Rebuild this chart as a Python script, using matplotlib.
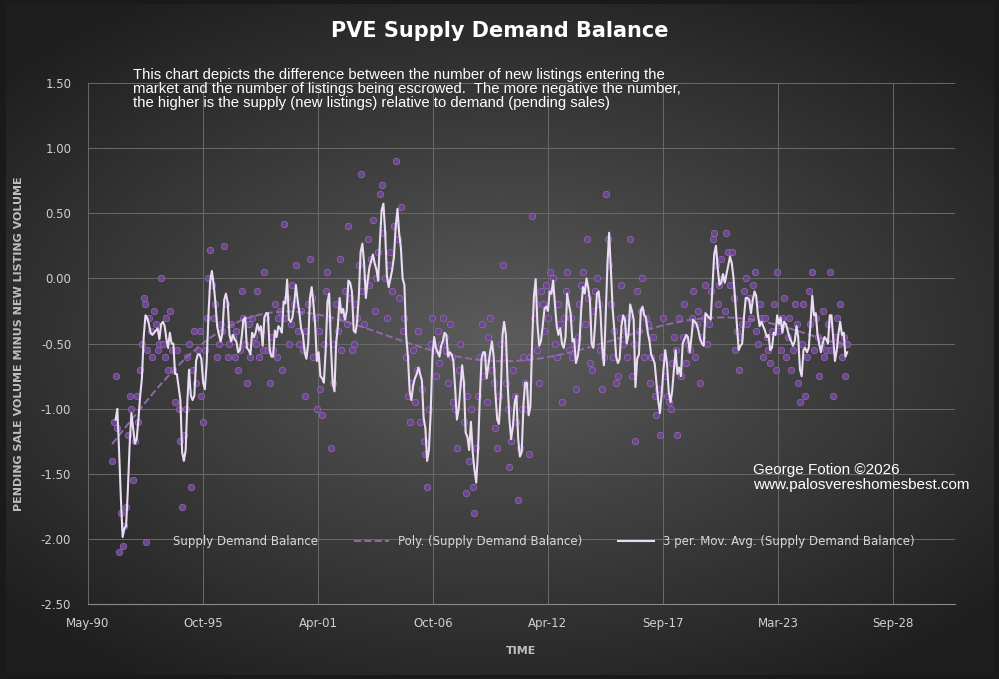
import numpy as np, pandas as pd, matplotlib
matplotlib.use("Agg")
import matplotlib.pyplot as plt

start = "1991-07-01"
values = [
-1.4,-1.1,-0.75,-1.15,-2.1,-1.8,
-2.05,-1.9,-1.75,-1.2,-0.9,-1.0,-1.55,-1.25,-0.9,-1.1,-0.7,-0.5,
-0.15,-0.2,-0.55,-0.3,-0.4,-0.6,-0.25,-0.35,-0.55,-0.5,0.0,-0.5,
-0.6,-0.3,-0.7,-0.25,-0.55,-0.7,-0.95,-0.55,-1.0,-1.25,-1.75,-1.2,
-1.0,-0.6,-0.5,-1.6,-0.7,-0.4,-0.8,-0.55,-0.4,-0.9,-1.1,-0.55,
-0.3,0.0,0.22,-0.05,-0.3,-0.2,-0.6,-0.5,-0.35,-0.4,0.25,-0.2,
-0.6,-0.5,-0.35,-0.45,-0.6,-0.4,-0.7,-0.55,-0.1,-0.3,-0.5,-0.8,
-0.35,-0.6,-0.3,-0.45,-0.5,-0.1,-0.6,-0.4,-0.55,0.05,-0.3,-0.55,
-0.8,-0.45,-0.55,-0.2,-0.6,-0.3,-0.25,-0.7,0.42,-0.3,-0.15,-0.5,
-0.35,-0.05,-0.2,0.1,-0.4,-0.5,-0.25,-0.55,-0.9,-0.4,-0.2,0.15,
-0.15,-0.6,-0.3,-1.0,-0.4,-0.85,-1.05,-0.5,-0.1,0.05,-0.3,-1.3,
-0.8,-0.5,-0.2,-0.4,0.15,-0.55,-0.3,-0.1,-0.35,0.4,-0.15,-0.55,
-0.5,-0.2,-0.3,0.1,0.8,-0.1,-0.35,0.0,0.3,-0.05,0.15,0.45,
-0.25,0.0,0.2,0.65,0.72,0.35,0.0,-0.3,0.1,0.2,-0.1,0.4,
0.9,0.3,-0.15,0.55,-0.4,-0.3,-0.6,-0.9,-1.1,-0.8,-0.55,-0.95,
-0.7,-0.4,-1.1,-0.85,-1.25,-1.35,-1.6,-1.0,-0.5,-0.3,-0.55,-0.75,
-0.4,-0.65,-0.5,-0.3,-0.45,-0.55,-0.8,-0.35,-0.6,-0.95,-1.0,-1.3,
-0.7,-0.5,-0.8,-1.1,-1.65,-0.9,-1.4,-1.0,-1.6,-1.8,-1.3,-0.9,
-0.6,-0.35,-0.75,-0.6,-0.95,-0.45,-0.3,-0.7,-0.8,-1.15,-1.3,-0.9,
-0.5,0.1,-0.6,-0.8,-1.0,-1.45,-1.25,-0.7,-0.9,-1.1,-1.7,-1.3,
-1.0,-0.6,-0.8,-1.0,-1.35,-0.6,0.48,-0.3,-0.2,-0.55,-0.8,-0.1,
-0.2,-0.4,-0.05,-0.3,0.05,-0.1,0.0,-0.5,-0.6,-0.2,-0.35,-0.95,
-0.3,-0.1,0.05,-0.55,-0.3,-0.6,-0.5,-0.85,-0.45,-0.2,-0.05,0.05,
-0.35,0.3,-0.15,-0.65,-0.7,-0.25,-0.1,0.0,-0.2,-0.55,-0.85,-0.6,
0.65,0.3,0.1,-0.2,-0.6,-0.4,-0.8,-0.75,-0.3,-0.05,-0.5,-0.4,
-0.6,-0.3,0.3,-0.75,-0.5,-1.25,-0.1,-0.4,-0.25,0.0,-0.6,-0.3,
-0.35,-0.8,-0.6,-0.45,-0.9,-1.05,-0.85,-1.2,-0.6,-0.3,-0.75,-0.9,
-0.95,-1.0,-0.65,-0.45,-0.55,-1.2,-0.3,-0.75,-0.45,-0.2,-0.65,-0.5,
-0.55,-0.3,-0.1,-0.6,-0.35,-0.25,-0.8,-0.45,-0.3,-0.05,-0.5,-0.35,
-0.1,0.3,0.35,0.1,-0.2,-0.05,0.15,0.0,-0.25,0.35,0.2,-0.05,
0.2,-0.15,-0.55,-0.4,-0.7,-0.45,-0.35,-0.1,0.0,-0.35,-0.15,-0.3,
-0.05,0.05,-0.4,-0.5,-0.2,-0.3,-0.6,-0.3,-0.45,-0.55,-0.65,-0.4,
-0.2,-0.7,0.05,-0.4,-0.55,-0.3,-0.15,-0.6,-0.45,-0.3,-0.7,-0.55,
-0.2,-0.35,-0.8,-0.95,-0.5,-0.2,-0.9,-0.6,-0.1,-0.35,0.05,-0.55,
-0.3,-0.45,-0.75,-0.5,-0.25,-0.6,-0.55,-0.35,0.05,-0.55,-0.9,-0.45,
-0.3,-0.5,-0.2,-0.6,-0.45,-0.75,-0.5]
tick_labels = ["May-90","Oct-95","Apr-01","Oct-06","Apr-12","Sep-17","Mar-23","Sep-28"]
y_ticks = [1.5,1.0,0.5,0.0,-0.5,-1.0,-1.5,-2.0,-2.5]

dates = pd.date_range(start, periods=len(values), freq="MS")
x = np.array((dates - pd.Timestamp("1899-12-30")).days, dtype=float)
y = np.array(values)
ma = pd.Series(y).rolling(3).mean().values
xs = (x - x.mean()) / x.std()
coef = np.polyfit(xs, y, 6)
poly = np.polyval(coef, xs)

fig = plt.figure(figsize=(9.99, 6.79), dpi=100)
fig.patch.set_facecolor("#1a1a1a")
bg = fig.add_axes([0.006, 0.006, 0.988, 0.988]); bg.axis("off")
gy, gx = np.mgrid[-1:1:300j, -1:1:400j]
r = np.sqrt(gx**2 * 0.8 + gy**2)
g = np.clip(0.36 - 0.2 * r, 0.12, 0.4)
bg.imshow(np.dstack([g, g, g]), aspect="auto", extent=[0, 1, 0, 1])
bg.set_xlim(0, 1); bg.set_ylim(0, 1)

ax = fig.add_axes([0.088, 0.11, 0.868, 0.768])
ax.patch.set_alpha(0)
ax.set_xlim(33000, 48080); ax.set_ylim(-2.5, 1.5)
ax.set_xticks([33000 + 2000 * i for i in range(8)], tick_labels)
ax.set_yticks(y_ticks, [f"{v:.2f}" for v in y_ticks])
ax.grid(True, color="#6a6a6a", lw=0.7)
for s in ax.spines.values(): s.set_visible(False)
ax.spines["bottom"].set_visible(True); ax.spines["bottom"].set_color("#8a8a8a")
ax.tick_params(colors="#d0d0d0", labelsize=8.5, length=0)
ax.tick_params(axis="x", pad=9)
ax.tick_params(axis="y", pad=12)
ax.scatter(x, y, s=22, color="#6e4590", edgecolors="#9a7cb8", linewidths=0.4, zorder=3, label="Supply Demand Balance")
ax.plot(x, poly, ls="--", color="#8e6aaa", lw=1.4, zorder=4, label="Poly. (Supply Demand Balance)")
ax.plot(x, ma, color="#eadcf2", lw=1.5, zorder=5, label="3 per. Mov. Avg. (Supply Demand Balance)")
ax.legend(loc="center", bbox_to_anchor=(0.5, 0.12), ncol=3, frameon=False, fontsize=8.5,
          labelcolor="#d8d8d8", columnspacing=3, handlelength=3)
ax.set_xlabel("TIME", color="#bfbfbf", fontsize=8, fontweight="bold", labelpad=12)
ax.set_ylabel("PENDING SALE VOLUME MINUS NEW LISTING VOLUME", color="#bfbfbf", fontsize=8, fontweight="bold", labelpad=12)
fig.text(0.5, 0.955, "PVE Supply Demand Balance", ha="center", va="center", color="white", fontsize=15, fontweight="bold")
fig.text(0.133, 0.9, "This chart depicts the difference between the number of new listings entering the\nmarket and the number of listings being escrowed.  The more negative the number,\nthe higher is the supply (new listings) relative to demand (pending sales)",
         ha="left", va="top", color="white", fontsize=10.7, linespacing=1.0, family="Liberation Sans")
fig.text(0.754, 0.297, "George Fotion \u00a92026\nwww.palosvereshomesbest.com", ha="left", va="center", color="white",
         fontsize=11, family="Liberation Sans", linespacing=1.1)
fig.savefig("out.png", dpi=100, facecolor=fig.get_facecolor())
